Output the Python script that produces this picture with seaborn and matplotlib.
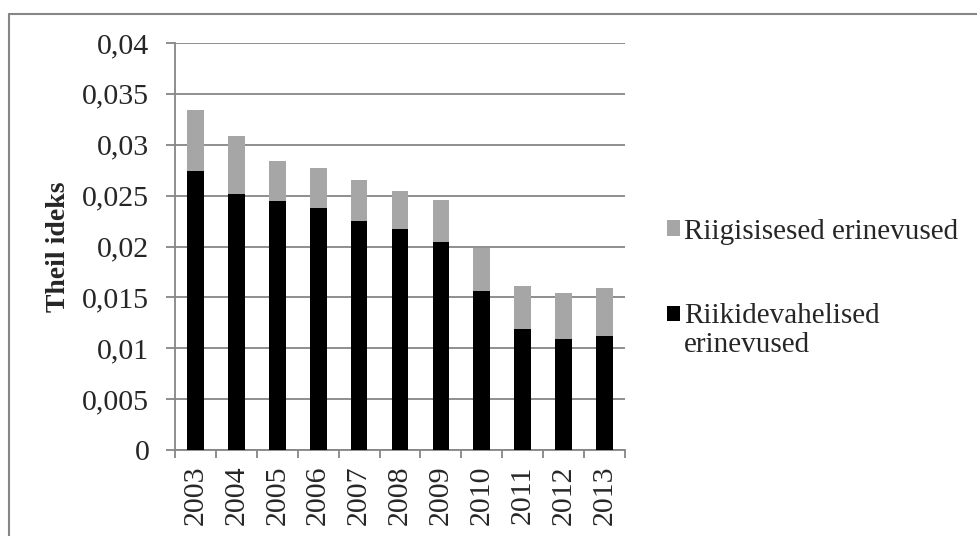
import matplotlib
matplotlib.use("Agg")
import matplotlib.pyplot as plt
from matplotlib.patches import Patch
from matplotlib.lines import Line2D
from matplotlib.legend_handler import HandlerPatch
import seaborn as sns
import pandas as pd

years = ["2003", "2004", "2005", "2006", "2007", "2008",
         "2009", "2010", "2011", "2012", "2013"]
# Theil index total and the between-country component
total = [0.0334, 0.0309, 0.0284, 0.0277, 0.0265, 0.0255,
         0.0246, 0.0199, 0.0161, 0.0154, 0.0159]
between = [0.0274, 0.0252, 0.0245, 0.0238, 0.0225, 0.0217,
           0.0204, 0.0156, 0.0119, 0.0109, 0.0112]
y_ticks = [0, 0.005, 0.01, 0.015, 0.02, 0.025, 0.03, 0.035, 0.04]
y_tick_labels = ["0", "0,005", "0,01", "0,015", "0,02", "0,025",
                 "0,03", "0,035", "0,04"]
label_within = "Riigisisesed erinevused"
label_between = "Riikidevahelised\nerinevused"
y_title = "Theil ideks"

GRAY = "#a6a6a6"
BLACK = "#000000"
LINE = "#868686"
FS = 21.5


class ShiftedPatch(HandlerPatch):
    """Legend square raised so it sits beside the first line of the label."""

    def __init__(self, dy=0.0, **kw):
        super().__init__(**kw)
        self.dy = dy

    def create_artists(self, legend, orig_handle, xdescent, ydescent,
                       width, height, fontsize, trans):
        return super().create_artists(legend, orig_handle, xdescent,
                                      ydescent - self.dy, width, height,
                                      fontsize, trans)


sns.set_theme(style="white")
plt.rcParams["font.family"] = ["Liberation Serif", "DejaVu Serif"]

df = pd.DataFrame({"year": years, "total": total, "between": between})

fig = plt.figure(figsize=(9.77, 5.36), dpi=100)
ax = fig.add_axes([175 / 977, 1 - 450 / 536, 450 / 977, 407 / 536])

# stacked look: full height in gray, between-country part drawn over it
sns.barplot(data=df, x="year", y="total", color=GRAY, width=0.41,
            linewidth=0, saturation=1, ax=ax, zorder=3)
sns.barplot(data=df, x="year", y="between", color=BLACK, width=0.41,
            linewidth=0, saturation=1, ax=ax, zorder=4)

ax.set_xlim(-0.5, len(years) - 0.5)
ax.set_ylim(0, 0.04)
ax.set_yticks(y_ticks)
ax.set_yticklabels(y_tick_labels, fontsize=FS)
ax.set_xticks(range(len(years)))
ax.set_xticklabels(years, rotation=90, fontsize=FS)
ax.set_xticks([i - 0.5 for i in range(len(years) + 1)], minor=True)
ax.tick_params(axis="x", which="major", length=0, pad=11)
ax.tick_params(axis="x", which="minor", length=6, width=1.3, color=LINE,
               direction="out", bottom=True)
ax.tick_params(axis="y", length=6.5, width=1.3, color=LINE, pad=12,
               direction="out", left=True)
ax.yaxis.grid(True, color=LINE, linewidth=1.3, zorder=0)
ax.set_axisbelow(True)
ax.set_xlabel("")
ax.set_ylabel(y_title, fontsize=20, fontweight="bold", labelpad=8)
for side in ["top", "right"]:
    ax.spines[side].set_visible(False)
for side in ["left", "bottom"]:
    ax.spines[side].set_color(LINE)
    ax.spines[side].set_linewidth(1.3)

h_within = Patch(facecolor=GRAY, edgecolor="none", label=label_within)
h_between = Patch(facecolor=BLACK, edgecolor="none", label=label_between)
leg = fig.legend(handles=[h_within, h_between], loc="upper left",
                 bbox_to_anchor=(652 / 977, 1 - 204 / 536), frameon=False,
                 fontsize=21, handlelength=0.45, handleheight=0.45,
                 handletextpad=0.15, labelspacing=2.0, borderpad=0,
                 handler_map={h_between: ShiftedPatch(dy=12)})
for t in leg.get_texts():
    t.set_linespacing(1.15)

# chart frame edges
fig.add_artist(Line2D([8.5 / 977, 8.5 / 977], [0, 1 - 14 / 536],
                      color=LINE, linewidth=1.5))
fig.add_artist(Line2D([8.5 / 977, 1], [1 - 14 / 536, 1 - 14 / 536],
                      color=LINE, linewidth=1.5))

fig.savefig("out.png", dpi=100, facecolor="white")
